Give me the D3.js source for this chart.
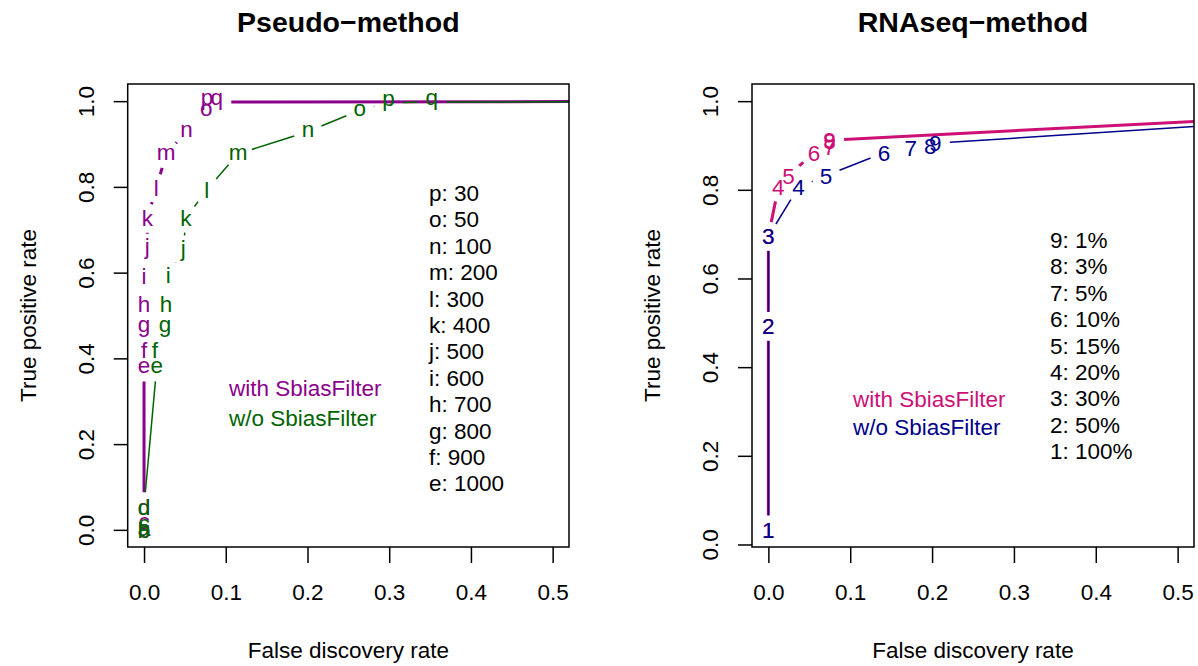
<!DOCTYPE html>
<html>
<head>
<meta charset="utf-8">
<script src="https://cdn.jsdelivr.net/npm/d3@7"></script>
<style>
body { margin: 0; background: #fff; }
text { font-family: "Liberation Sans", Arial, Helvetica, sans-serif; }
</style>
</head>
<body>
<svg id="chart" width="1198" height="666"></svg>
<script>
// ---- Pseudo-method panel data ----
var pseudoLabels = ["a","b","c","d","e","f","g","h","i","j","k","l","m","n","o","p","q",""];
var pseudoWithFdr = [0, 0, 0, 0, 0, 0, 0, 0, 0, 0.004, 0.004, 0.015, 0.027, 0.052, 0.076, 0.077, 0.089, 1];
var pseudoWithTpr = [0, 0, 0.016, 0.054, 0.38, 0.42, 0.47, 0.528, 0.593, 0.657, 0.727, 0.797, 0.877, 0.929, 0.978, 0.998, 0.998, 1];
var pseudoWoFdr = [0, 0, 0, 0, 0.0155, 0.0134, 0.0257, 0.027, 0.0297, 0.048, 0.0513, 0.0766, 0.115, 0.2007, 0.264, 0.299, 0.352, 1];
var pseudoWoTpr = [0, 0, 0.012, 0.054, 0.38, 0.42, 0.47, 0.528, 0.594, 0.653, 0.727, 0.793, 0.877, 0.929, 0.979, 0.996, 0.998, 1];
var pseudoKey = ["p: 30","o: 50","n: 100","m: 200","l: 300","k: 400","j: 500","i: 600","h: 700","g: 800","f: 900","e: 1000"];

// ---- RNAseq-method panel data ----
var rnaseqLabels = ["1","2","3","4","5","6","7","8","9",""];
var rnaseqWithFdr = [0, 0, 0, 0.0122, 0.0245, 0.0559, 0.0746, 0.0748, 0.0748, 1];
var rnaseqWithTpr = [0.033, 0.492, 0.695, 0.806, 0.832, 0.884, 0.897, 0.91, 0.912, 1];
var rnaseqWoFdr = [0, 0, 0, 0.0367, 0.0705, 0.1414, 0.174, 0.1977, 0.204, 1];
var rnaseqWoTpr = [0.033, 0.492, 0.695, 0.806, 0.832, 0.884, 0.894, 0.9, 0.905, 1];
var rnaseqKey = ["9: 1%","8: 3%","7: 5%","6: 10%","5: 15%","4: 20%","3: 30%","2: 50%","1: 100%"];

var xTicks = [0, 0.1, 0.2, 0.3, 0.4, 0.5];
var yTicks = [0, 0.2, 0.4, 0.6, 0.8, 1.0];

var FS = 22.5;    // base font size
var GAP = 14.5;   // type="b" gap around each point

var svg = d3.select("#chart");

// vertical offset so a glyph's ink is centred on its point (R pch-char style)
function inkCentre(ch) {
	if (/[0-9]/.test(ch)) return 0.358;
	if (/[gpqy]/.test(ch)) return 0.155;
	if (ch == "j") return 0.255;
	if (/[bdfhklti]/.test(ch)) return 0.36;
	return 0.26;
}

function drawTypeB(g, x, y, fdr, tpr, labels, color, lw) {

	var px = fdr.map(function(d) { return x(d); });
	var py = tpr.map(function(d) { return y(d); });

	for (var i = 0; i < px.length - 1; i++) {
		var dx = px[i + 1] - px[i], dy = py[i + 1] - py[i];
		var d = Math.sqrt(dx * dx + dy * dy);
		if (d <= 2 * GAP) continue;
		var ux = dx / d, uy = dy / d;
		g.append("line") //
		.attr("x1", px[i] + ux * GAP) //
		.attr("y1", py[i] + uy * GAP) //
		.attr("x2", px[i + 1] - ux * GAP) //
		.attr("y2", py[i + 1] - uy * GAP) //
		.attr("stroke", color) //
		.attr("stroke-width", lw);
	}

	labels.forEach(function(lab, i) {
		if (lab == "") return;
		g.append("text") //
		.attr("x", px[i]) //
		.attr("y", py[i] + inkCentre(lab) * FS) //
		.attr("text-anchor", "middle") //
		.attr("font-size", FS) //
		.attr("fill", color) //
		.text(lab);
	});
}// END: drawTypeB

function drawPanel(p) {

	var x = d3.scaleLinear().domain([-0.02, 0.52]).range([p.left, p.right]);
	var yExt = d3.extent(p.series[0].tpr.concat(p.series[1].tpr));
	var pad = (yExt[1] - yExt[0]) * 0.04;
	var y = d3.scaleLinear().domain([yExt[0] - pad, yExt[1] + pad]).range([p.bottom, p.top]);

	// axes
	var xAxis = svg.append("g") //
	.attr("transform", "translate(0," + p.bottom + ")") //
	.call(d3.axisBottom(x).tickValues(xTicks).tickFormat(d3.format(".1f")).tickSize(16).tickSizeOuter(0).tickPadding(21));
	xAxis.select(".domain").remove();
	xAxis.selectAll("line").attr("stroke-width", 1.5);
	xAxis.selectAll("text").attr("font-size", FS).attr("font-family", null).attr("fill", "#000");

	var yAxis = svg.append("g") //
	.attr("transform", "translate(" + p.left + ",0)") //
	.call(d3.axisLeft(y).tickValues(yTicks).tickFormat(d3.format(".1f")).tickSize(14).tickSizeOuter(0));
	yAxis.select(".domain").remove();
	yAxis.selectAll("line").attr("stroke-width", 1.5);
	yAxis.selectAll("text") //
	.attr("font-size", FS).attr("font-family", null).attr("fill", "#000") //
	.attr("transform", "rotate(-90)") //
	.attr("x", 0).attr("y", -42).attr("dy", "0.36em") //
	.attr("text-anchor", "middle");

	// plot region
	var clipId = "clip" + p.id;
	svg.append("clipPath").attr("id", clipId).append("rect") //
	.attr("x", p.left).attr("y", p.top) //
	.attr("width", p.right - p.left).attr("height", p.bottom - p.top);

	var g = svg.append("g").attr("clip-path", "url(#" + clipId + ")");
	p.series.forEach(function(s) {
		drawTypeB(g, x, y, s.fdr, s.tpr, s.labels, s.color, s.lw);
	});

	svg.append("rect") //
	.attr("x", p.left).attr("y", p.top) //
	.attr("width", p.right - p.left).attr("height", p.bottom - p.top) //
	.attr("fill", "none").attr("stroke", "#000").attr("stroke-width", 1.5);

	// titles
	var cx = (p.left + p.right) / 2, cy = (p.top + p.bottom) / 2;
	svg.append("text").attr("x", cx).attr("y", 32) //
	.attr("text-anchor", "middle").attr("font-size", 28.5).attr("font-weight", "bold") //
	.text(p.title);
	svg.append("text").attr("x", cx).attr("y", p.bottom + 111) //
	.attr("text-anchor", "middle").attr("font-size", FS) //
	.text("False discovery rate");
	svg.append("text") //
	.attr("transform", "translate(" + (p.left - 100) + "," + cy + ") rotate(-90)") //
	.attr("dy", "0.36em") //
	.attr("text-anchor", "middle").attr("font-size", FS) //
	.text("True positive rate");

	// colour legend
	p.series.forEach(function(s, i) {
		svg.append("text") //
		.attr("x", p.legX).attr("y", p.legY + i * p.legStep + 7.5) //
		.attr("font-size", FS).attr("fill", s.color) //
		.text(s.name);
	});

	// label key
	p.key.forEach(function(k, i) {
		svg.append("text") //
		.attr("x", p.keyX).attr("y", p.keyY + i * 26.4 + 8) //
		.attr("font-size", FS).attr("fill", "#000") //
		.text(k);
	});
}// END: drawPanel

drawPanel({
	id : "L",
	left : 127.7, right : 569, top : 84, bottom : 547,
	title : "Pseudo\u2212method",
	series : [ {
		name : "with SbiasFilter", color : "#8B008B", lw : 3,
		fdr : pseudoWithFdr, tpr : pseudoWithTpr, labels : pseudoLabels
	}, {
		name : "w/o SbiasFilter", color : "#006400", lw : 1.5,
		fdr : pseudoWoFdr, tpr : pseudoWoTpr, labels : pseudoLabels
	} ],
	legX : 229, legY : 388, legStep : 30,
	key : pseudoKey, keyX : 429, keyY : 193
});

drawPanel({
	id : "R",
	left : 752, right : 1194, top : 84, bottom : 547,
	title : "RNAseq\u2212method",
	series : [ {
		name : "with SbiasFilter", color : "#CD1076", lw : 3,
		fdr : rnaseqWithFdr, tpr : rnaseqWithTpr, labels : rnaseqLabels
	}, {
		name : "w/o SbiasFilter", color : "#00008B", lw : 1.5,
		fdr : rnaseqWoFdr, tpr : rnaseqWoTpr, labels : rnaseqLabels
	} ],
	legX : 853, legY : 399, legStep : 28,
	key : rnaseqKey, keyX : 1050, keyY : 240
});
</script>
</body>
</html>
